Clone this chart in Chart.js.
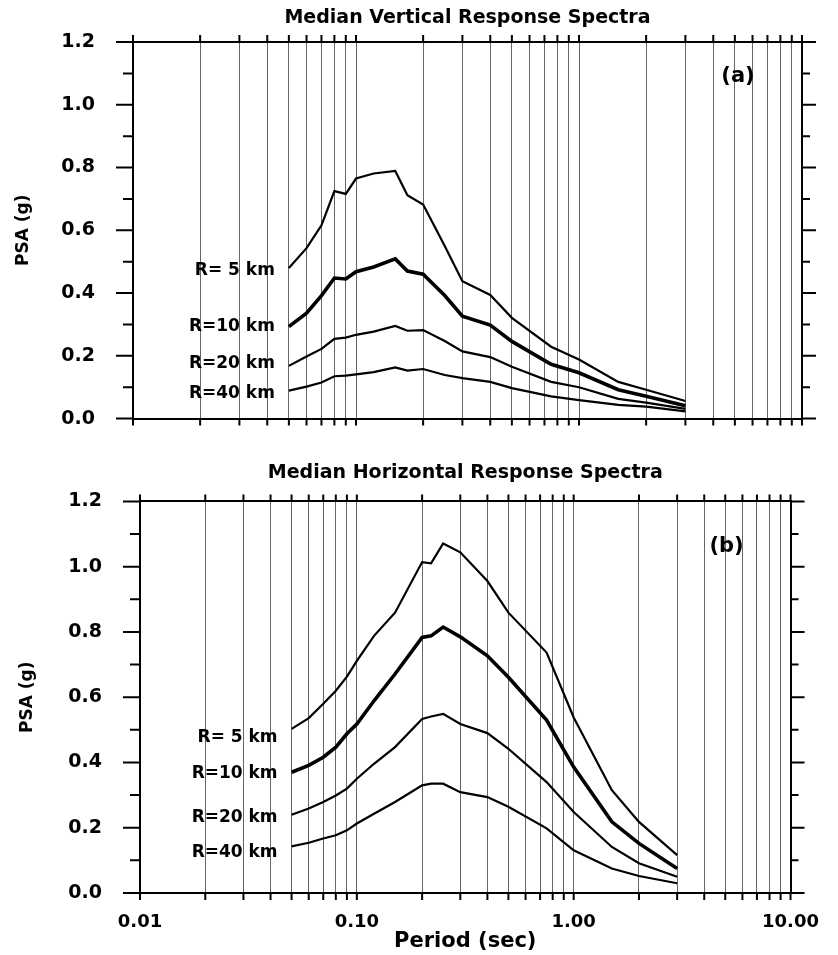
<!DOCTYPE html>
<html>
<head>
<meta charset="utf-8">
<script src="https://cdn.jsdelivr.net/npm/chart.js@4.4.1/dist/chart.umd.min.js"></script>
<style>
html, body { margin: 0; padding: 0; background: #fff; }
#wrap { position: relative; width: 838px; height: 955px; }
.panel { position: absolute; left: 0; }
</style>
</head>
<body>
<div id="wrap">
  <div class="panel" style="top:0"><canvas id="chartA" width="838" height="460"></canvas></div>
  <div class="panel" style="top:460px"><canvas id="chartB" width="838" height="495"></canvas></div>
</div>
<script>
const FONT = "'DejaVu Sans', sans-serif";

// periods (sec) of the vertical spectra, panel (a)
const vPeriods = [0.05, 0.06, 0.07, 0.08, 0.09, 0.10, 0.12, 0.15, 0.17, 0.20, 0.25, 0.30, 0.40, 0.50, 0.75, 1.0, 1.5, 2.0, 3.0];
const vR5  = [0.480, 0.543, 0.616, 0.725, 0.716, 0.765, 0.781, 0.789, 0.712, 0.682, 0.550, 0.438, 0.394, 0.321, 0.229, 0.188, 0.117, 0.092, 0.056];
const vR10 = [0.293, 0.336, 0.392, 0.448, 0.445, 0.468, 0.483, 0.509, 0.470, 0.460, 0.392, 0.326, 0.298, 0.246, 0.173, 0.146, 0.092, 0.071, 0.041];
const vR20 = [0.168, 0.198, 0.222, 0.254, 0.258, 0.267, 0.277, 0.295, 0.280, 0.282, 0.247, 0.214, 0.196, 0.165, 0.117, 0.100, 0.063, 0.051, 0.031];
const vR40 = [0.089, 0.102, 0.115, 0.135, 0.137, 0.141, 0.148, 0.163, 0.153, 0.158, 0.139, 0.129, 0.117, 0.097, 0.071, 0.059, 0.044, 0.038, 0.023];

// periods (sec) of the horizontal spectra, panel (b)
const hPeriods = [0.05, 0.06, 0.07, 0.08, 0.09, 0.10, 0.12, 0.15, 0.20, 0.22, 0.25, 0.30, 0.40, 0.50, 0.75, 1.0, 1.5, 2.0, 3.0];
const hR5  = [0.503, 0.536, 0.580, 0.620, 0.663, 0.711, 0.788, 0.859, 1.014, 1.010, 1.071, 1.044, 0.956, 0.859, 0.737, 0.538, 0.315, 0.218, 0.116];
const hR10 = [0.370, 0.391, 0.416, 0.447, 0.488, 0.518, 0.589, 0.671, 0.783, 0.788, 0.815, 0.785, 0.727, 0.661, 0.530, 0.386, 0.218, 0.152, 0.075];
const hR20 = [0.240, 0.259, 0.279, 0.299, 0.320, 0.350, 0.396, 0.447, 0.533, 0.541, 0.549, 0.518, 0.490, 0.442, 0.340, 0.248, 0.141, 0.091, 0.050];
const hR40 = [0.143, 0.154, 0.167, 0.177, 0.192, 0.213, 0.243, 0.279, 0.330, 0.335, 0.335, 0.309, 0.294, 0.264, 0.198, 0.131, 0.075, 0.052, 0.030];

const rLabels = ['R= 5 km', 'R=10 km', 'R=20 km', 'R=40 km'];
const lineWidths = [2.2, 3.6, 2.2, 2.2];

// axis ticks
const yTicks = [0, 0.2, 0.4, 0.6, 0.8, 1.0, 1.2];
const yMinorTicks = [0.1, 0.3, 0.5, 0.7, 0.9, 1.1];
const xGridTicks = [0.01, 0.02, 0.03, 0.04, 0.05, 0.06, 0.07, 0.08, 0.09,
                    0.1, 0.2, 0.3, 0.4, 0.5, 0.6, 0.7, 0.8, 0.9,
                    1, 2, 3, 4, 5, 6, 7, 8, 9, 10];
const xLabelTicks = [0.01, 0.1, 1, 10];
const xTickText = ['0.01', '0.10', '1.00', '10.00'];

function makeDatasets(periods, series) {
    return series.map((vals, i) => ({
        label: rLabels[i],
        data: periods.map((p, j) => ({ x: p, y: vals[j] })),
        xAxisID: 'x',
        yAxisID: 'y',
        borderColor: '#000',
        borderWidth: lineWidths[i],
        pointRadius: 0,
        tension: 0,
        fill: false
    }));
}

// titles, panel tag, curve labels and the outer tick marks
const decor = {
    id: 'decor',
    afterDraw(chart, args, opts) {
        const { ctx, chartArea: a, scales } = chart;
        const x = scales.x, y = scales.y;
        ctx.save();
        ctx.strokeStyle = '#000';
        ctx.lineWidth = 2;
        ctx.beginPath();
        yTicks.forEach(v => {
            const py = y.getPixelForValue(v);
            ctx.moveTo(a.left - 17, py); ctx.lineTo(a.left, py);
            ctx.moveTo(a.right, py); ctx.lineTo(a.right + 14, py);
        });
        yMinorTicks.forEach(v => {
            const py = y.getPixelForValue(v);
            ctx.moveTo(a.left - 10, py); ctx.lineTo(a.left, py);
            ctx.moveTo(a.right, py); ctx.lineTo(a.right + 8, py);
        });
        xGridTicks.forEach(v => {
            const px = x.getPixelForValue(v);
            ctx.moveTo(px, a.top - 7); ctx.lineTo(px, a.top);
            ctx.moveTo(px, a.bottom); ctx.lineTo(px, a.bottom + 7);
        });
        ctx.stroke();

        ctx.fillStyle = '#000';
        ctx.textAlign = 'center';
        ctx.textBaseline = 'middle';
        ctx.font = 'bold 19px ' + FONT;
        ctx.fillText(opts.title, (a.left + a.right) / 2, opts.titleY);
        ctx.font = 'bold 21px ' + FONT;
        ctx.fillText(opts.tag, a.right - 64, a.top + opts.tagDy);

        ctx.font = 'bold 17px ' + FONT;
        ctx.textAlign = 'right';
        chart.data.datasets.forEach((ds, i) => {
            const p0 = ds.data[0];
            ctx.fillText(ds.label, x.getPixelForValue(p0.x) - 14, y.getPixelForValue(p0.y) + opts.labelDy[i]);
        });
        ctx.restore();
    }
};

function makeOptions(cfg) {
    return {
        responsive: false,
        animation: false,
        layout: { padding: 0 },
        plugins: {
            legend: { display: false },
            tooltip: { enabled: false },
            decor: { title: cfg.title, titleY: cfg.titleY, tag: cfg.tag, tagDy: cfg.tagDy, labelDy: cfg.labelDy }
        },
        scales: {
            x: {
                type: 'logarithmic',
                position: 'bottom',
                min: 0.01,
                max: 10,
                afterBuildTicks: s => { s.ticks = xGridTicks.map(v => ({ value: v })); },
                grid: { color: '#666', lineWidth: 1, drawTicks: false },
                border: { color: '#000', width: 2 },
                ticks: {
                    autoSkip: false,
                    maxRotation: 0,
                    padding: 19,
                    color: '#000',
                    font: { family: FONT, size: 18, weight: 'bold' },
                    callback: v => {
                        const k = xLabelTicks.findIndex(t => Math.abs(t - v) < t * 1e-6);
                        return cfg.showX && k >= 0 ? xTickText[k] : '';
                    }
                },
                title: {
                    display: cfg.showX,
                    text: 'Period (sec)',
                    color: '#000',
                    font: { family: FONT, size: 21, weight: 'bold' },
                    padding: { top: 0, bottom: 1 }
                },
                afterFit: s => { s.height = cfg.bottom; }
            },
            x2: {
                type: 'logarithmic',
                position: 'top',
                min: 0.01,
                max: 10,
                grid: { display: false },
                border: { color: '#000', width: 2 },
                ticks: { display: false },
                afterFit: s => { s.height = cfg.top; }
            },
            y: {
                type: 'linear',
                position: 'left',
                min: 0,
                max: 1.2,
                afterBuildTicks: s => { s.ticks = yTicks.map(v => ({ value: v })); },
                grid: { display: false },
                border: { color: '#000', width: 2 },
                ticks: {
                    padding: 30,
                    color: '#000',
                    font: { family: FONT, size: 19, weight: 'bold' },
                    callback: v => v.toFixed(1)
                },
                title: {
                    display: true,
                    text: 'PSA (g)',
                    color: '#000',
                    font: { family: FONT, size: 17, weight: 'bold' },
                    padding: { top: cfg.yTitlePad, bottom: 0 }
                },
                afterFit: s => { s.width = cfg.left; }
            },
            y2: {
                type: 'linear',
                position: 'right',
                min: 0,
                max: 1.2,
                grid: { display: false },
                border: { color: '#000', width: 2 },
                ticks: { display: false },
                afterFit: s => { s.width = cfg.right; }
            }
        }
    };
}

new Chart(document.getElementById('chartA'), {
    type: 'line',
    data: { datasets: makeDatasets(vPeriods, [vR5, vR10, vR20, vR40]) },
    options: makeOptions({
        left: 133, right: 36, top: 42, bottom: 25, showX: false, yTitlePad: 13,
        title: 'Median Vertical Response Spectra', titleY: 18,
        tag: '(a)', tagDy: 35, labelDy: [3, 0, -2, 3]
    }),
    plugins: [decor]
});

new Chart(document.getElementById('chartB'), {
    type: 'line',
    data: { datasets: makeDatasets(hPeriods, [hR5, hR10, hR20, hR40]) },
    options: makeOptions({
        left: 140, right: 32, top: 40, bottom: 62, showX: true, yTitlePad: 17,
        title: 'Median Horizontal Response Spectra', titleY: 13,
        tag: '(b)', tagDy: 45, labelDy: [9, 1, 3, 6]
    }),
    plugins: [decor]
});
</script>
</body>
</html>
